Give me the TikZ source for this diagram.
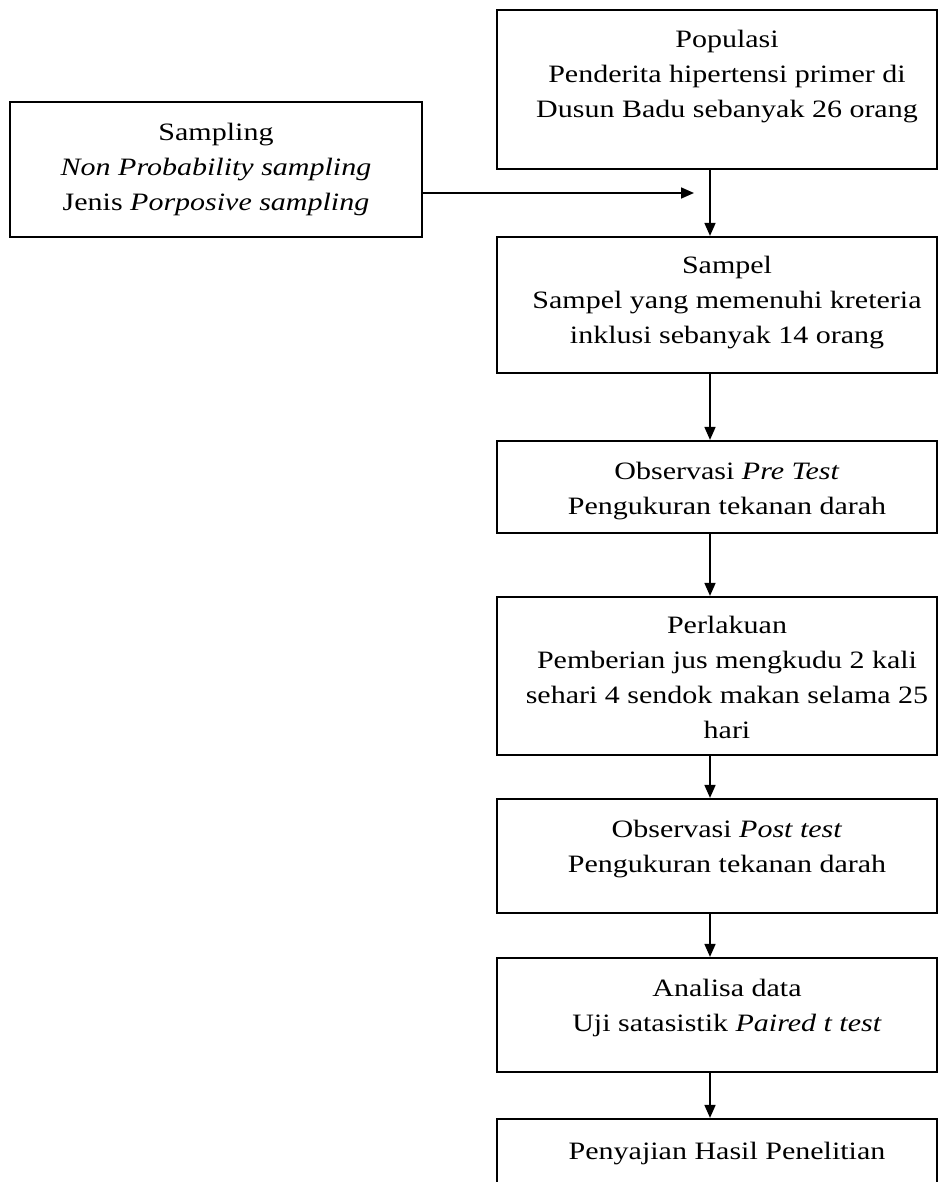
\documentclass[tikz,border=0pt]{standalone}
\usepackage{fontspec}
\setmainfont{Liberation Serif}[FakeStretch=1.2]
\usetikzlibrary{positioning,arrows.meta}

\tikzset{
  flowbox/.style={draw,line width=2.2pt,inner sep=0pt},
  rightbox/.style={flowbox,minimum width=440pt},
  boxtext/.style={align=center,inner sep=0pt,font=\fontsize{25}{35}\selectfont},
  righttext/.style={boxtext,xshift=10pt},
  flowarrow/.style={line width=1.6pt,-{Triangle[length=13pt,width=11pt]}}
}

\begin{document}
\begin{tikzpicture}[x=1pt,y=-1pt]
  \useasboundingbox (0,0) rectangle (945,1182);
  \clip (0,0) rectangle (945,1182);
  \fill[white] (0,0) rectangle (945,1182);

  \node[rightbox,minimum height=159pt] (pop) at (717,89.5){};
  \node[flowbox,minimum width=412pt,minimum height=135pt] (samp) at (216,169.5){};
  \node[rightbox,minimum height=136pt] (sampel) at (717,305){};
  \node[rightbox,minimum height=92pt] (pre) at (717,487){};
  \node[rightbox,minimum height=158pt] (perl) at (717,676){};
  \node[rightbox,minimum height=114pt] (post) at (717,856){};
  \node[rightbox,minimum height=114pt] (anal) at (717,1015){};
  \node[rightbox,minimum height=114pt] (saji) at (717,1176){};

  \node[righttext,below=21pt of pop.north] (poptxt){Populasi\\Penderita hipertensi primer di\\Dusun Badu sebanyak 26 orang};
  \node[boxtext,below=22pt of samp.north] (samptxt){Sampling\\\textit{Non Probability sampling}\\Jenis \textit{Porposive sampling}};
  \node[righttext,below=20pt of sampel.north] (sampeltxt){Sampel\\Sampel yang memenuhi kreteria\\inklusi sebanyak 14 orang};
  \node[righttext,below=22pt of pre.north] (pretxt){Observasi \textit{Pre Test}\\Pengukuran tekanan darah};
  \node[righttext,below=20pt of perl.north] (perltxt){Perlakuan\\Pemberian jus mengkudu 2 kali\\sehari 4 sendok makan selama 25\\hari};
  \node[righttext,below=22pt of post.north] (posttxt){Observasi \textit{Post test}\\Pengukuran tekanan darah};
  \node[righttext,below=22pt of anal.north] (analtxt){Analisa data\\Uji satasistik \textit{Paired t test}};
  \node[righttext,below=24pt of saji.north] (sajitxt){Penyajian Hasil Penelitian};

  \coordinate (axis) at (710,0);
  \coordinate (sampend) at (694,193);
  \draw[flowarrow] (samp.east |- sampend) -- (sampend);
  \draw[flowarrow] (pop.south -| axis) -- (sampel.north -| axis);
  \draw[flowarrow] (sampel.south -| axis) -- (pre.north -| axis);
  \draw[flowarrow] (pre.south -| axis) -- (perl.north -| axis);
  \draw[flowarrow] (perl.south -| axis) -- (post.north -| axis);
  \draw[flowarrow] (post.south -| axis) -- (anal.north -| axis);
  \draw[flowarrow] (anal.south -| axis) -- (saji.north -| axis);
\end{tikzpicture}
\end{document}
